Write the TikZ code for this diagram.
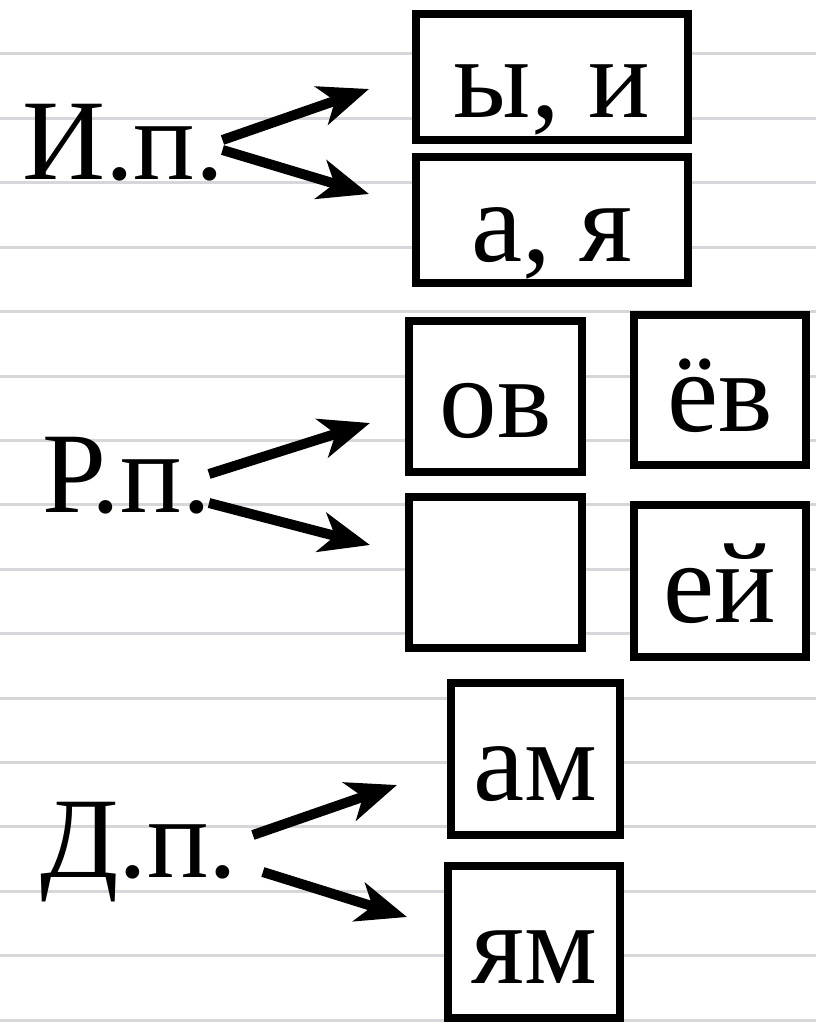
\documentclass[tikz,border=0pt]{standalone}
\usepackage{fontspec}
\setmainfont{Liberation Serif}
\usetikzlibrary{arrows.meta}

\definecolor{linegray}{RGB}{214,214,219}
\tikzset{
  casename/.style={anchor=base west, inner sep=0pt, font=\fontsize{115}{130}\selectfont},
  ending/.style={draw, line width=8pt, fill=white, inner sep=0pt,
    text height=90pt, text depth=8pt, font=\fontsize{115}{130}\selectfont},
  pointer/.style={line width=10pt, -{Stealth[length=50pt,width=40pt,inset=14pt]}},
  ruling/.style={line width=3pt, linegray}
}

\begin{document}
\begin{tikzpicture}[x=1pt,y=-1pt]
  \useasboundingbox (0,0) rectangle (816,1024);
  \fill[white] (0,0) rectangle (816,1024);
  % notebook lines
  \foreach \k in {0,...,15}
    \draw[ruling] (0,{54+64.4*\k}) -- (816,{54+64.4*\k});

  % cases
  \node[casename] (ip) at (22,180) {И.п.};
  \node[casename] (rp) at (42,512) {Р.п.};
  \node[casename] (dp) at (40,877) {Д.п.};

  % endings
  \node[ending, minimum width=272pt, minimum height=126pt] (yi) at (552,77) {ы, и};
  \node[ending, minimum width=272pt, minimum height=126pt] (aya) at (552,220) {а, я};
  \node[ending, minimum width=173pt, minimum height=151pt] (ov) at (495.5,396.5) {ов};
  \node[ending, minimum width=172pt, minimum height=150pt] (yov) at (720,390) {ёв};
  \node[ending, minimum width=173pt, minimum height=151pt] (blank) at (495.5,572.5) {};
  \node[ending, minimum width=172pt, minimum height=152pt] (ey) at (720,581) {ей};
  \node[ending, minimum width=169pt, minimum height=152pt] (am) at (535.5,759) {ам};
  \node[ending, minimum width=172pt, minimum height=152pt] (yam) at (534,942) {ям};

  \coordinate (ipup) at (369,89);
  \coordinate (ipdown) at (369,194);
  \coordinate (rpup) at (370,423);
  \coordinate (rpdown) at (370,545);
  \coordinate (dpup) at (397,785);
  \coordinate (dpdown) at (407,917);

  \draw[pointer] ([shift={(-2,-40)}]ip.base east) -- (ipup);
  \draw[pointer] ([shift={(-2,-30)}]ip.base east) -- (ipdown);
  \draw[pointer] ([shift={(-2,-38)}]rp.base east) -- (rpup);
  \draw[pointer] ([shift={(-2,-9)}]rp.base east) -- (rpdown);
  \draw[pointer] ([shift={(15,-42)}]dp.base east) -- (dpup);
  \draw[pointer] ([shift={(25,-5)}]dp.base east) -- (dpdown);
\end{tikzpicture}
\end{document}
